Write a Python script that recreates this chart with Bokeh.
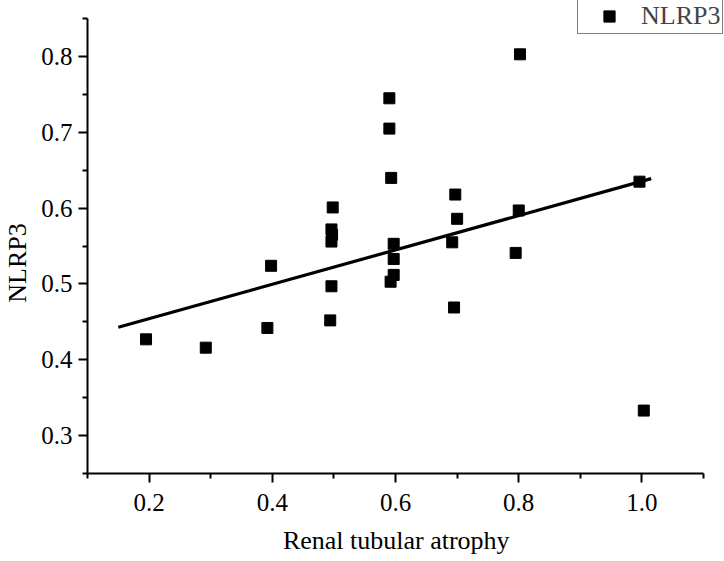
from bokeh.plotting import figure
from bokeh.models import (ColumnDataSource, FixedTicker, Legend, LegendItem, Range1d,
                          NumeralTickFormatter)
from bokeh.embed import file_html
from bokeh.resources import INLINE

# ---- data ----
atrophy = [0.195, 0.292, 0.392, 0.398, 0.494, 0.496, 0.496, 0.497, 0.496, 0.498,
           0.590, 0.590, 0.593, 0.597, 0.597, 0.597, 0.592,
           0.697, 0.700, 0.692, 0.695, 0.802, 0.800, 0.795, 0.996, 1.003]
nlrp3 = [0.427, 0.416, 0.442, 0.524, 0.452, 0.497, 0.572, 0.565, 0.556, 0.601,
         0.745, 0.705, 0.640, 0.553, 0.533, 0.512, 0.503,
         0.618, 0.586, 0.555, 0.469, 0.803, 0.597, 0.541, 0.635, 0.333]
fit_x = [0.15, 1.015]
fit_y = [0.443, 0.639]

x_ticks = [0.2, 0.4, 0.6, 0.8, 1.0]
x_minor = [0.1, 0.3, 0.5, 0.7, 0.9, 1.1]
y_ticks = [0.3, 0.4, 0.5, 0.6, 0.7, 0.8]
y_minor = [0.25, 0.35, 0.45, 0.55, 0.65, 0.75, 0.85]
x_axis_span = (0.1, 1.1)
y_axis_span = (0.25, 0.85)

FONT = "Liberation Serif"
NB = "\u00a0"

# frame runs to the top/right canvas edges so the legend is not clipped;
# the axis lines themselves are limited with bounds
p = figure(width=724, height=561, output_backend="svg", toolbar_location=None,
           x_range=Range1d(0.1, 1.134), y_range=Range1d(0.25, 0.874),
           min_border_left=87, min_border_right=0, min_border_top=0, min_border_bottom=88)
p.outline_line_color = None
p.grid.visible = False
p.background_fill_color = "white"
p.border_fill_color = "white"

src = ColumnDataSource(dict(x=atrophy, y=nlrp3))
pts = p.scatter("x", "y", source=src, marker="square", size=11,
                fill_color="black", line_color="black")
p.line(fit_x, fit_y, line_color="black", line_width=3.2)

for ax, ticks, minor, span in ((p.xaxis[0], x_ticks, x_minor, x_axis_span),
                               (p.yaxis[0], y_ticks, y_minor, y_axis_span)):
    ax.ticker = FixedTicker(ticks=ticks, minor_ticks=minor)
    ax.formatter = NumeralTickFormatter(format="0.0")
    ax.bounds = span
    ax.axis_line_width = 2
    ax.axis_line_color = "black"
    ax.major_tick_line_width = 2
    ax.minor_tick_line_width = 2
    ax.major_tick_in = 0
    ax.major_tick_out = 9
    ax.minor_tick_in = 0
    ax.minor_tick_out = 5
    ax.major_label_text_font = FONT
    ax.major_label_text_font_size = "25px"
    ax.major_label_text_color = "black"
    ax.axis_label_text_font = FONT
    ax.axis_label_text_font_size = "26px"
    ax.axis_label_text_font_style = "normal"
    ax.axis_label_text_color = "black"

# trailing no-break spaces shift the centred titles to where the reference has them
p.xaxis.axis_label = "Renal tubular atrophy" + NB * 3
p.yaxis.axis_label = "NLRP3" + NB * 8
p.xaxis.major_label_standoff = 11
p.yaxis.major_label_standoff = 6
p.xaxis.axis_label_standoff = 12
p.yaxis.axis_label_standoff = 6

legend = Legend(items=[LegendItem(label="NLRP3", renderers=[pts])],
                location=(490, 439), padding=2, spacing=0,
                glyph_width=58, glyph_height=28, label_standoff=3,
                label_text_font=FONT, label_text_font_size="26px",
                border_line_color="black", border_line_width=1,
                background_fill_alpha=1.0, margin=0)
p.add_layout(legend, "center")

open("out.html", "w").write(file_html(p, INLINE))
